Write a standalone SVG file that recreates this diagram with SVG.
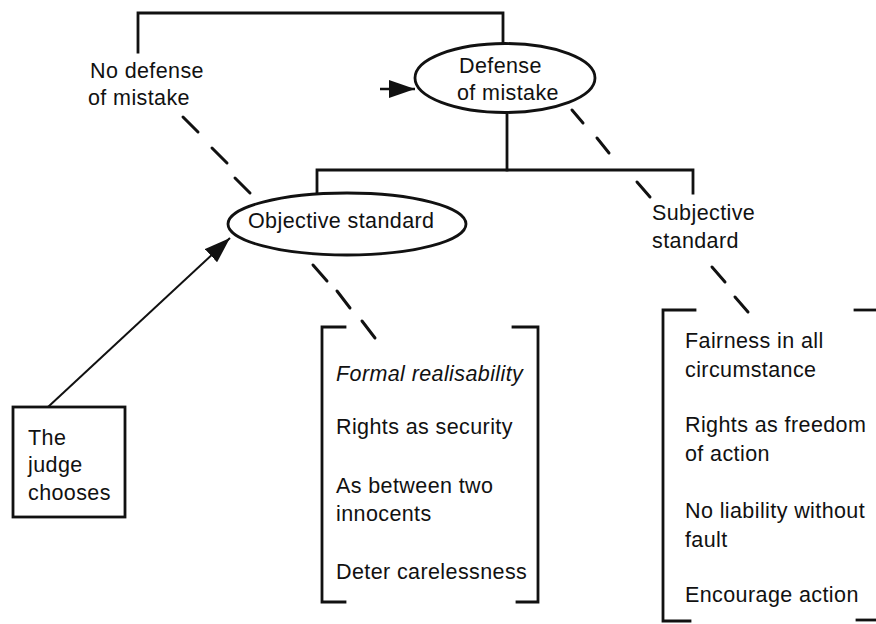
<svg xmlns="http://www.w3.org/2000/svg" width="876" height="624" viewBox="0 0 876 624">
<style>
  text { font-family: "Liberation Sans", Arial, sans-serif; font-size: 21.5px; letter-spacing: 0.4px; fill: #111; }
  .it { font-style: italic; }
  .solid { fill: none; stroke: #111; stroke-width: 2.8; stroke-linecap: square; }
  .dash { fill: none; stroke: #111; stroke-width: 3; stroke-linecap: round; }
  .shape { fill: #fff; stroke: #111; stroke-width: 2.8; }
</style>
<defs>
  <marker id="arr2" markerWidth="26" markerHeight="18" refX="26" refY="9" orient="auto" markerUnits="userSpaceOnUse" viewBox="0 0 26 18">
    <path d="M0,0 L26,9 L0,18 z" fill="#111"/>
  </marker>
</defs>

<g id="connectors">
  <path class="solid" d="M138,52 V13 H503 V43"/>
  <path class="solid" d="M507,112 V170"/>
  <path class="solid" d="M317,193 V170 H693 V193"/>
  <path class="dash" d="M183,117 L198,132 M212,148 L227,163 M235,178 L250,193"/>
  <path class="dash" d="M313,265 L327,281 M337,291 L350,308 M362,321 L375,338"/>
  <path class="dash" d="M572,110 L583,123 M597,138 L609,153 M637,182 L650,197"/>
  <path class="dash" d="M712,267 L725,282 M735,297 L748,312"/>
  <line x1="380" y1="89" x2="415" y2="89" stroke="#111" stroke-width="2.4" marker-end="url(#arr2)"/>
  <line x1="48" y1="407" x2="230" y2="238" stroke="#111" stroke-width="2" marker-end="url(#arr2)"/>
</g>

<g id="no-defense">
  <text x="90" y="78">No defense</text>
  <text x="88" y="105">of mistake</text>
</g>

<g id="defense">
  <ellipse class="shape" cx="505" cy="78" rx="90" ry="34.5"/>
  <text x="459" y="73">Defense</text>
  <text x="457" y="100">of mistake</text>
</g>

<g id="objective">
  <ellipse class="shape" cx="347" cy="224" rx="119" ry="31"/>
  <text x="248" y="228">Objective standard</text>
</g>

<g id="subjective">
  <text x="652" y="220">Subjective</text>
  <text x="652" y="248">standard</text>
</g>

<g id="judge">
  <rect class="shape" x="13" y="407" width="112" height="110"/>
  <text x="28" y="445">The</text>
  <text x="28" y="472">judge</text>
  <text x="28" y="500">chooses</text>
</g>

<g id="objective-reasons">
  <path class="solid" d="M345,327 H322 V602 H345"/>
  <path class="solid" d="M513,327 H538 V602 H517"/>
  <text class="it" x="336" y="381">Formal realisability</text>
  <text x="336" y="434">Rights as security</text>
  <text x="336" y="493">As between two</text>
  <text x="336" y="521">innocents</text>
  <text x="336" y="579">Deter carelessness</text>
</g>

<g id="subjective-reasons">
  <path class="solid" d="M695,310 H663 V621 H690"/>
  <path class="solid" d="M855,310 H880"/>
  <path class="solid" d="M857,620 H880"/>
  <text x="685" y="348">Fairness in all</text>
  <text x="685" y="377">circumstance</text>
  <text x="685" y="432">Rights as freedom</text>
  <text x="685" y="461">of action</text>
  <text x="685" y="518">No liability without</text>
  <text x="685" y="547">fault</text>
  <text x="685" y="602">Encourage action</text>
</g>
</svg>
